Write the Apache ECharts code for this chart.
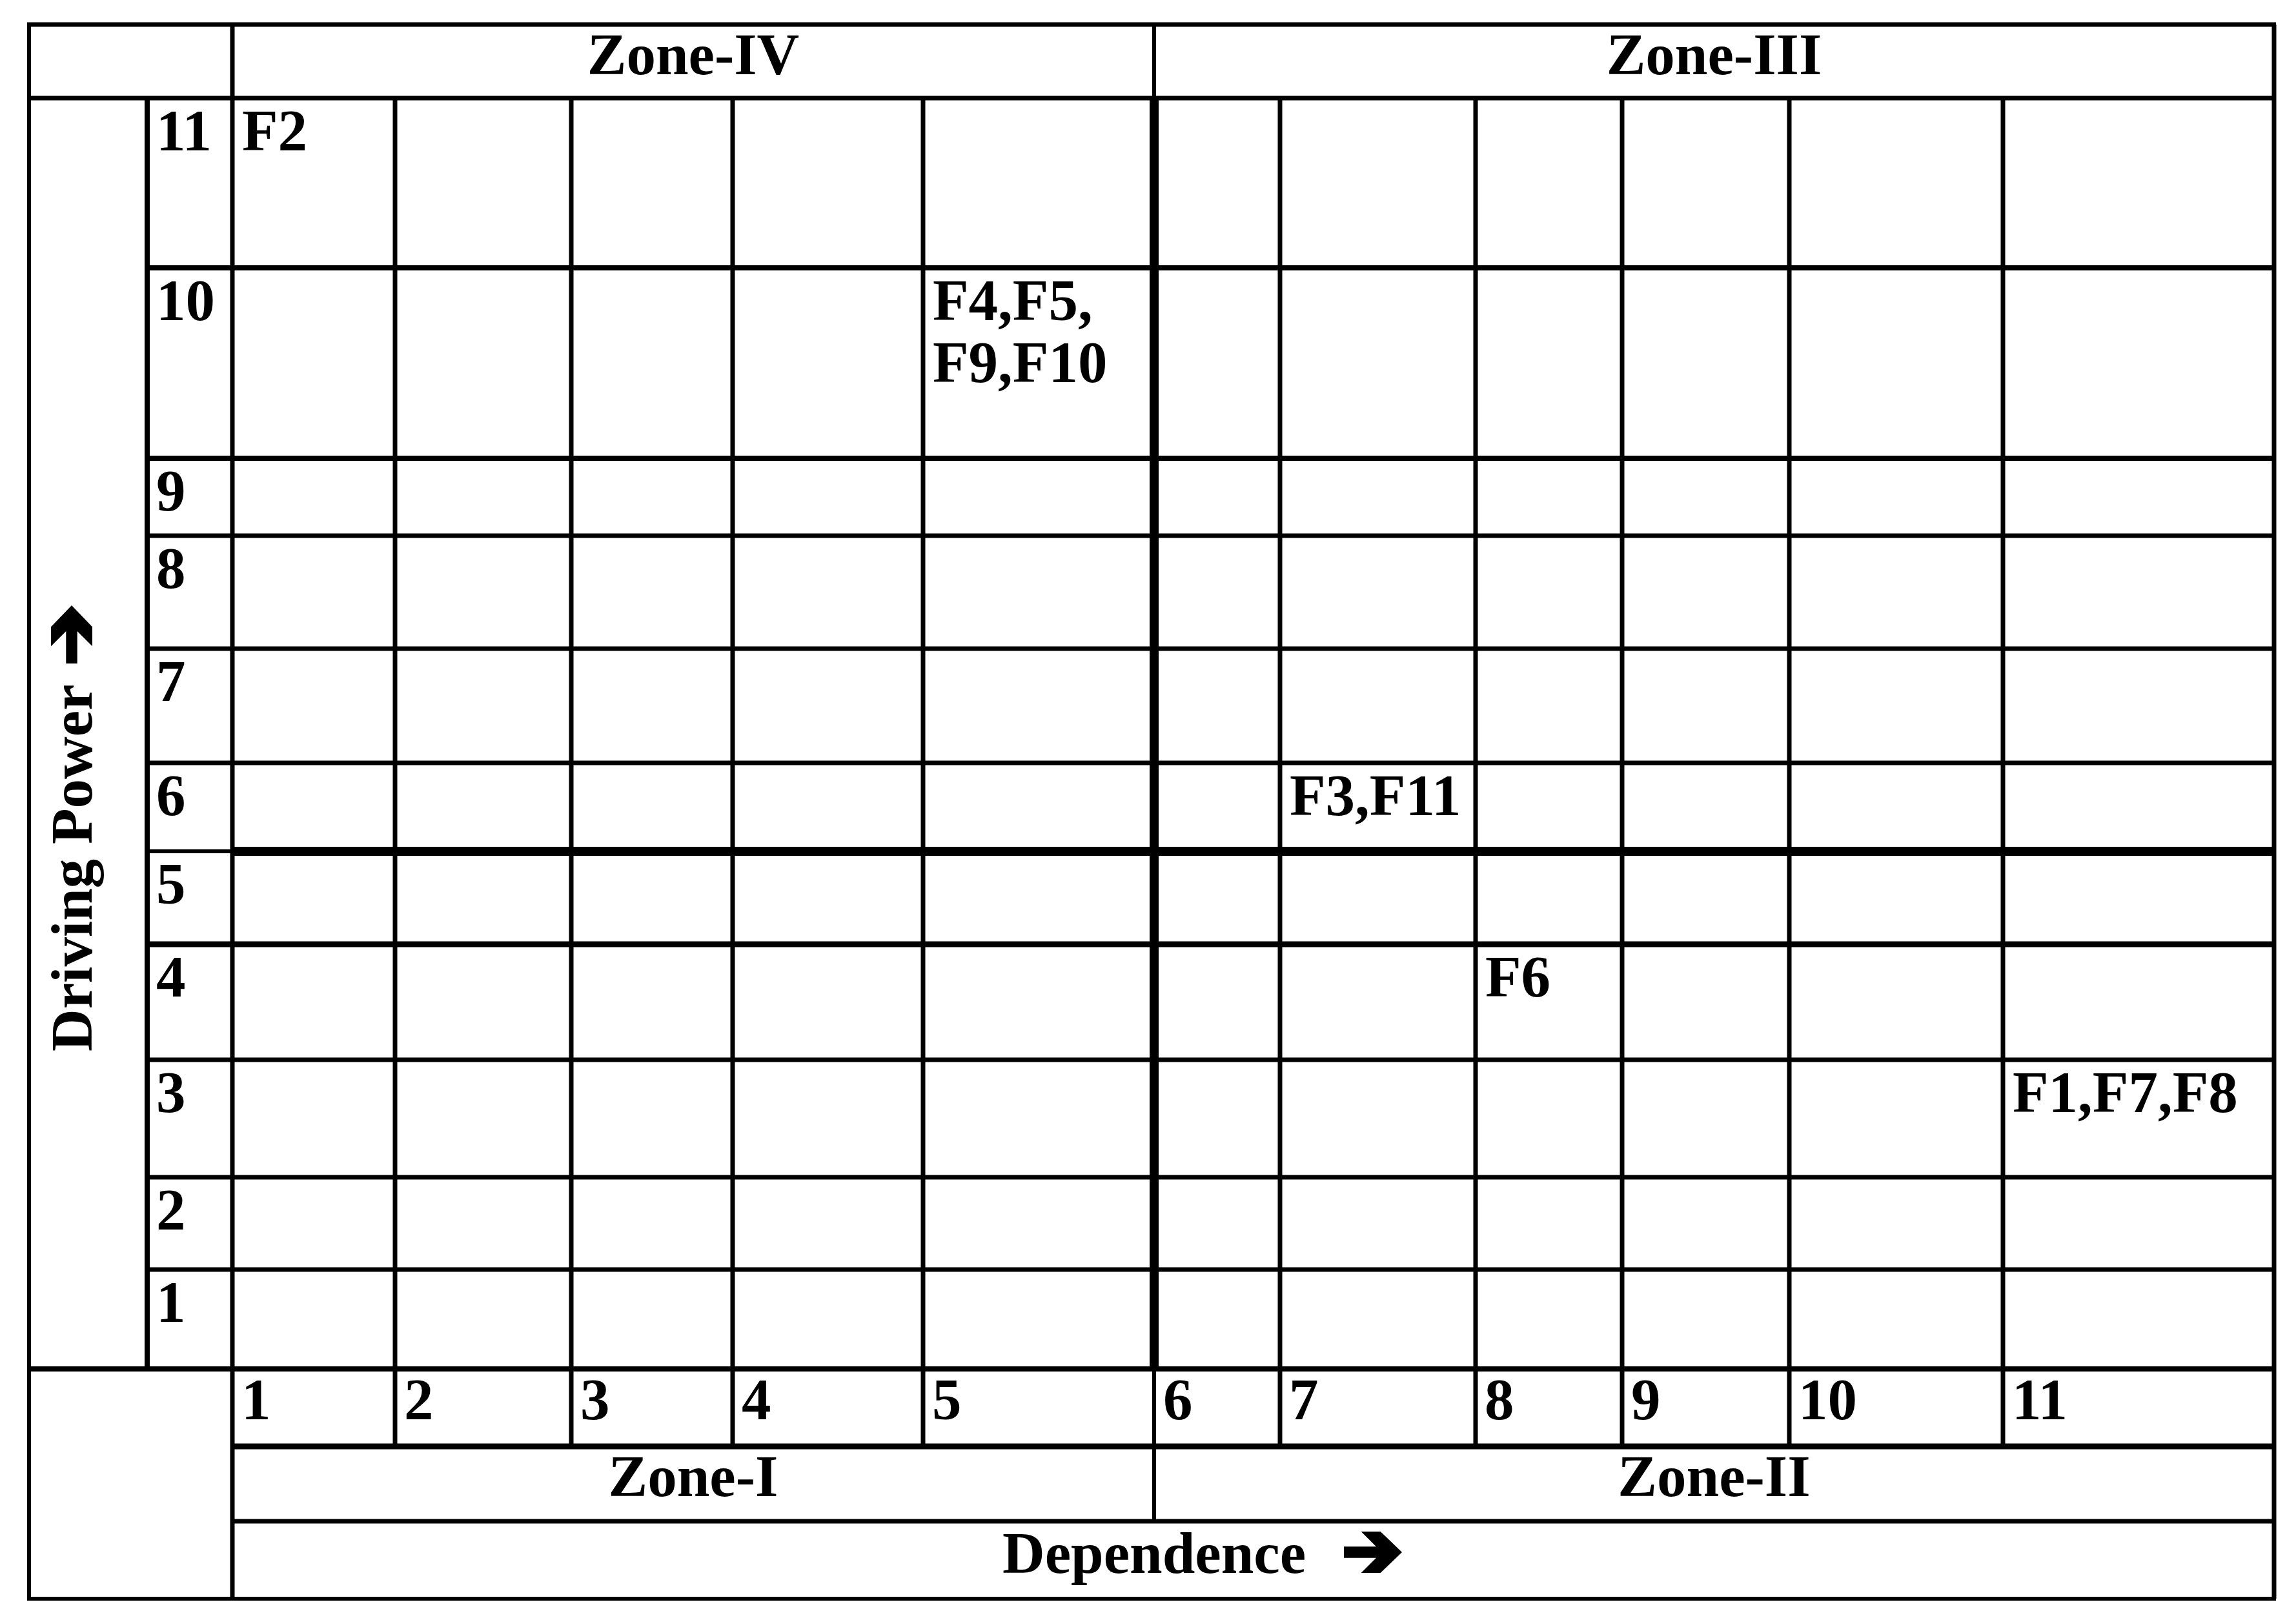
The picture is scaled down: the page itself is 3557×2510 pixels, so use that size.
<!DOCTYPE html>
<html><head><meta charset="utf-8">
<script src="https://cdn.jsdelivr.net/npm/echarts@6/dist/echarts.min.js"></script>
<style>html,body{margin:0;padding:0;background:#fff}#c{width:3557px;height:2510px}</style>
</head><body><div id="c"></div>
<script>
// ---------- data ----------
const dependenceLevels = ['1','2','3','4','5','6','7','8','9','10','11'];
const drivingLevels = ['11','10','9','8','7','6','5','4','3','2','1'];
const topZones = ['Zone-IV','Zone-III'];
const bottomZones = ['Zone-I','Zone-II'];
const factorLabels = ['F2','F4,F5,\nF9,F10','F3,F11','F6','F1,F7,F8'];
const factorDependence = [1,5,7,8,11];
const factorDriving = [11,10,6,4,3];
const xTitle = 'Dependence';
const yTitle = 'Driving Power';

// ---------- layout (pixels) ----------
const W = 3557, H = 2510;
const colEdges = [360,612,885,1135,1430,1788,1983,2286,2513,2772,3103,3523];
const rowEdges = [152,415,710,830,1005,1182,1319,1463,1642,1824,1967,2121];
const rowWidths = [7,8,8,7,7,7,14,9,7,7,7,8];
const LEFT = 45, DPX = 228, TOP = 38, NUMB = 2241, ZONEB = 2357, BOT = 2477;
const ZSPLIT_COL = 5, ZSPLIT_ROW = 6;
const FONT = '"Liberation Serif","Times New Roman",serif';
const FS = 91;
const DY = 7;

// ---------- build lines ----------
const lines = [];
const e = 3;
lines.push([LEFT-e, TOP, colEdges[11]+e, TOP, 7]);
lines.push([LEFT-e, BOT, colEdges[11]+e, BOT, 6]);
lines.push([LEFT, TOP, LEFT, BOT, 6]);
lines.push([colEdges[11], TOP, colEdges[11], BOT, 7]);
lines.push([LEFT, rowEdges[0], colEdges[11], rowEdges[0], rowWidths[0]]);
for (let i = 1; i < rowEdges.length; i++) {
  const y = rowEdges[i], w = rowWidths[i];
  if (i === 11) { lines.push([LEFT, y, colEdges[11], y, w]); continue; }
  if (i === ZSPLIT_ROW) {
    lines.push([DPX, y, colEdges[0], y, 6]);
    lines.push([colEdges[0], y, colEdges[11], y, w]);
  } else {
    lines.push([DPX, y, colEdges[11], y, w]);
  }
}
lines.push([colEdges[0], NUMB, colEdges[11], NUMB, 9]);
lines.push([colEdges[0], ZONEB, colEdges[11], ZONEB, 7]);
lines.push([DPX, rowEdges[0], DPX, rowEdges[11], 8]);
lines.push([colEdges[0], TOP, colEdges[0], BOT, 7]);
for (let c = 1; c < 11; c++) {
  const x = colEdges[c];
  if (c === ZSPLIT_COL) {
    lines.push([x, TOP, x, rowEdges[0], 6]);
    lines.push([x, rowEdges[0], x, rowEdges[11], 14]);
    lines.push([x, rowEdges[11], x, ZONEB, 6]);
  } else {
    lines.push([x, rowEdges[0], x, NUMB, 7]);
  }
}

// ---------- build texts ----------
const texts = [];
const zx = colEdges[ZSPLIT_COL];
texts.push({x:(colEdges[0]+zx)/2, y:84+DY, text:topZones[0], align:'center', va:'middle'});
texts.push({x:(zx+colEdges[11])/2, y:84+DY, text:topZones[1], align:'center', va:'middle'});
texts.push({x:(colEdges[0]+zx)/2, y:2287+DY, text:bottomZones[0], align:'center', va:'middle'});
texts.push({x:(zx+colEdges[11])/2, y:2287+DY, text:bottomZones[1], align:'center', va:'middle'});
drivingLevels.forEach((lab,i)=>texts.push({x:DPX+14, y:rowEdges[i]+50+DY, text:lab, align:'left', va:'middle'}));
dependenceLevels.forEach((lab,i)=>texts.push({x:colEdges[i]+14, y:rowEdges[11]+47+DY, text:lab, align:'left', va:'middle'}));
factorLabels.forEach((lab,i)=>{
  const d = factorDependence[i], v = factorDriving[i];
  texts.push({x:colEdges[d-1]+15, y:rowEdges[11-v]+2+DY, text:lab, align:'left', va:'top', lh:96});
});
texts.push({x:1553, y:2406+DY, text:xTitle, align:'left', va:'middle'});
texts.push({x:118, y:1629, text:yTitle, align:'left', va:'middle', rot:Math.PI/2});

// arrows next to axis titles: [x, y, rotation]
const arrows = [[2082, 2405, 0], [111, 1028, Math.PI/2]];
const arrowShape = [[0,-8.7],[50,-8.7],[26.7,-32],[56.7,-32],[90,0],[56.7,32],[26.7,32],[50,8.7],[0,8.7]];

// ---------- chart ----------
const chart = echarts.init(document.getElementById('c'), null, {renderer:'canvas'});
chart.setOption({
  animation:false,
  backgroundColor:'#ffffff',
  grid:{left:0,right:0,top:0,bottom:0},
  xAxis:{type:'value', min:0, max:W, show:false},
  yAxis:{type:'value', min:0, max:H, inverse:true, show:false},
  series:[
    {
      type:'custom', clip:false, silent:true,
      data: lines.map(l=>[l[0],l[1],l[2],l[3]]),
      renderItem:(params, api)=>{
        const l = lines[params.dataIndex];
        const p1 = api.coord([l[0],l[1]]), p2 = api.coord([l[2],l[3]]);
        return {type:'line', shape:{x1:p1[0],y1:p1[1],x2:p2[0],y2:p2[1]},
          style:{stroke:'#000', lineWidth:l[4], lineCap:'butt'}};
      }
    },
    {
      type:'custom', clip:false, silent:true,
      data: texts.map(t=>[t.x,t.y]),
      renderItem:(params, api)=>{
        const t = texts[params.dataIndex];
        const p = api.coord([t.x,t.y]);
        const st = {text:t.text, fontSize:FS, fontFamily:FONT, fontWeight:'bold',
          fill:'#000', textFill:'#000', align:t.align, textAlign:t.align,
          verticalAlign:t.va, textVerticalAlign:t.va};
        if (t.lh) st.lineHeight = t.lh;
        return {type:'text', x:p[0], y:p[1], rotation:t.rot||0, style:st};
      }
    },
    {
      type:'custom', clip:false, silent:true,
      data: arrows.map(a=>[a[0],a[1]]),
      renderItem:(params, api)=>{
        const a = arrows[params.dataIndex];
        const p = api.coord([a[0],a[1]]);
        return {type:'polygon', x:p[0], y:p[1], rotation:a[2],
          shape:{points:arrowShape}, style:{fill:'#000'}};
      }
    }
  ]
});
</script>
</body></html>
